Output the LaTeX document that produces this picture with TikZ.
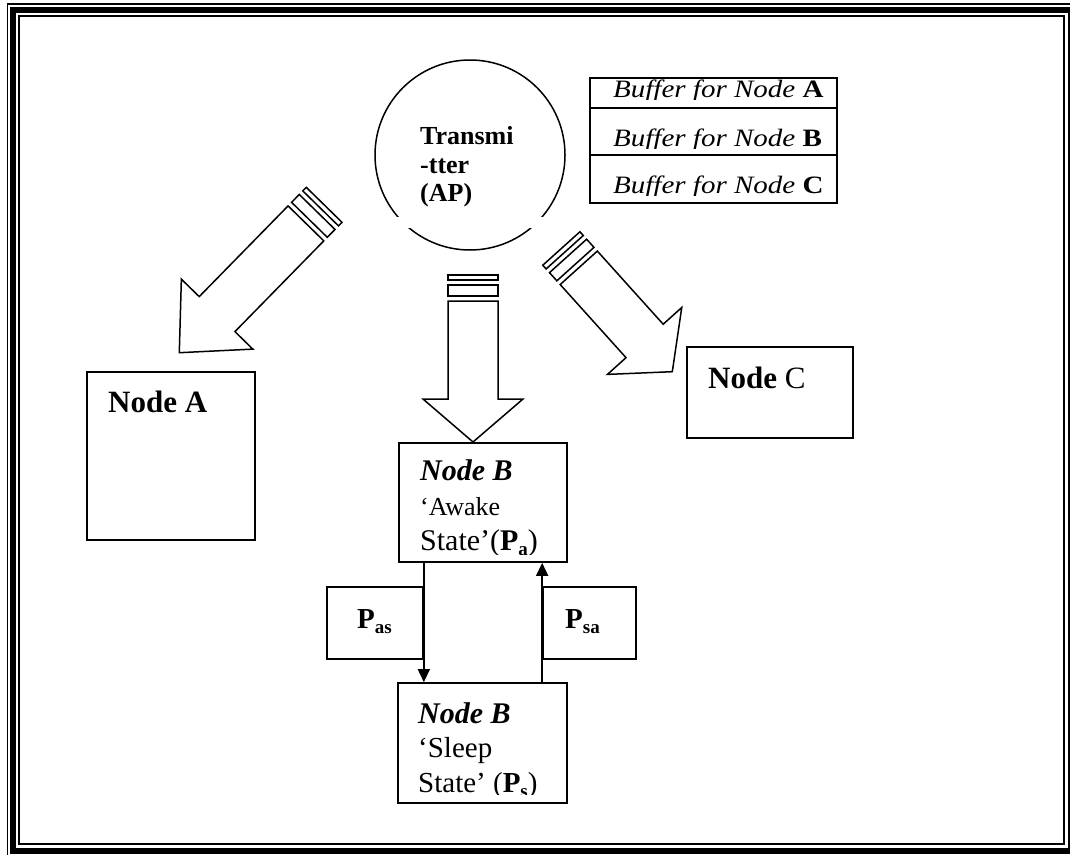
\documentclass[tikz,border=0pt]{standalone}
\usepackage{fontspec}
\setmainfont{Liberation Serif}
\usetikzlibrary{arrows.meta}
\newcommand{\blkarrow}[5]{%
\begin{scope}[shift={(#1,#2)}, rotate=#3]
\draw[blk] (0,0) -- (-50,-#4) -- (-25,-#4) -- (-25,-#5) -- (25,-#5) -- (25,-#4) -- (50,-#4) -- cycle;
\draw[blk] (-25,-#5-5) rectangle (25,-#5-16);
\draw[blk] (-25,-#5-21) rectangle (25,-#5-26);
\end{scope}}
\newcommand{\fs}[1]{\fontsize{#1}{#1}\selectfont}
\newcommand{\buftext}[1]{\scalebox{1.16}[1]{\fs{25}\itshape Buffer for Node \upshape\bfseries #1}}
\begin{document}
\begin{tikzpicture}[x=1pt,y=-1pt,
  box/.style={draw, line width=1.7pt, inner sep=0pt, fill=white},
  blk/.style={draw, line width=1.5pt, fill=white, line join=miter},
  txt/.style={anchor=base west, inner sep=0pt},
  conn/.style={line width=1.6pt, -{Triangle[length=13pt,width=12pt]}}]
\useasboundingbox (0,0) rectangle (1070,854);
% frame
\draw[line width=1.5pt] (7.5,3.8) rectangle (1076,857);
\draw[line width=6pt] (12.5,10.3) rectangle (1071,851);
\draw[line width=2pt] (19,16.3) rectangle (1064,844);
% transmitter
\node[draw, circle, line width=1.5pt, minimum size=190pt, inner sep=0pt] (ap) at (470,155) {};
\fill[white] (378,217) rectangle (562,228);
\node[txt] (t1) at (420,144) {\fs{26}\bfseries Transmi};
\node[txt] (t2) at (420,173) {\fs{26}\bfseries -tter};
\node[txt] (t3) at (420,201) {\fs{26}\bfseries (AP)};
% buffers
\node[box, minimum width=247pt, minimum height=30pt] (bufA) at (713.5,93) {};
\node[box, minimum width=247pt, minimum height=47pt] (bufB) at (713.5,131.5) {};
\node[box, minimum width=247pt, minimum height=48pt] (bufC) at (713.5,179) {};
\begin{scope}\clip (590,79) rectangle (837,99);
\node[txt] (bA) at (613,97) {\buftext{A}};
\end{scope}
\begin{scope}\clip (590,110) rectangle (837,148);
\node[txt] (bB) at (613,146) {\buftext{B}};
\end{scope}
\begin{scope}\clip (590,157) rectangle (837,195);
\node[txt] (bC) at (613,193) {\buftext{C}};
\end{scope}
% block arrows
\blkarrow{179.3}{352.7}{-44.4}{54}{181}
\blkarrow{473}{442}{0}{43}{141}
\blkarrow{672.3}{371.7}{42}{41.4}{139.8}
% nodes A, C
\node[box, minimum width=168pt, minimum height=168pt] (A) at (171,456) {};
\node[txt] (tA) at (108,412) {\fs{31}\bfseries Node A};
\node[box, minimum width=166pt, minimum height=91pt] (C) at (770,392.5) {};
\node[txt] (tC) at (708,388) {\fs{31}\textbf{Node} C};
% node B states
\node[box, minimum width=168pt, minimum height=119pt] (awake) at (483,502.5) {};
\node[txt] (aw1) at (420,480) {\fs{30}\bfseries\itshape Node B};
\node[txt] (aw2) at (420,515) {\fs{26}`Awake};
\begin{scope}\clip (401,520) rectangle (565,554);
\node[txt] (aw3) at (420,550) {\fs{30}State'(\textbf{P\raisebox{-5pt}{\fs{19}a}})};
\end{scope}
\node[box, minimum width=169pt, minimum height=120pt] (sleep) at (482.5,743) {};
\node[txt] (sl1) at (418,723) {\fs{30}\bfseries\itshape Node B};
\node[txt] (sl2) at (418,757) {\fs{29}`Sleep};
\begin{scope}\clip (400,760) rectangle (565,794);
\node[txt] (sl3) at (418,792) {\fs{29}State' (\textbf{P\raisebox{-5pt}{\fs{19}s}})};
\end{scope}
% transition probabilities
\node[box, minimum width=96pt, minimum height=72pt] (pas) at (375,623) {};
\node[txt] (tpas) at (357,628) {\fs{29}\bfseries P\raisebox{-5pt}{\fs{19}as}};
\node[box, minimum width=93pt, minimum height=72pt] (psa) at (589.5,623) {};
\node[txt] (tpsa) at (565,628) {\fs{29}\bfseries P\raisebox{-5pt}{\fs{19}sa}};
\draw[conn] (pas.east |- awake.south) -- (pas.east |- sleep.north);
\draw[conn] (psa.west |- sleep.north) -- (psa.west |- awake.south);
\end{tikzpicture}
\end{document}
